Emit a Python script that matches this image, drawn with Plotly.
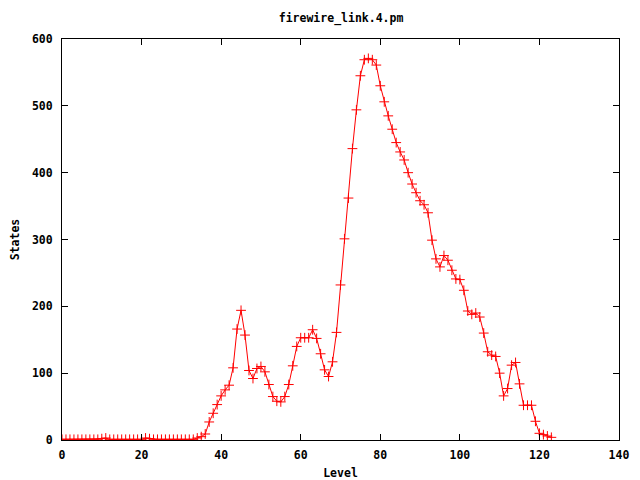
import plotly.graph_objects as go

levels = list(range(0, 124))
states = [
    1, 1, 1, 1, 1, 1, 1, 1, 1, 1,
    2, 3, 1, 1, 1, 1, 1, 1, 1, 1,
    1, 3, 2, 1, 1, 1, 1, 1, 1, 1,
    1, 1, 1, 1, 3, 5, 9, 27, 40, 53,
    66, 75, 82, 108, 166, 194, 157, 104, 92, 107,
    110, 102, 83, 65, 58, 57, 65, 83, 111, 140,
    153, 153, 153, 165, 152, 129, 105, 95, 117, 161,
    232, 301, 362, 436, 494, 545, 569, 571, 569, 561,
    530, 506, 485, 465, 445, 431, 419, 400, 383, 370,
    358, 352, 340, 299, 271, 259, 276, 269, 254, 241,
    240, 224, 193, 188, 190, 184, 160, 132, 127, 125,
    100, 66, 77, 112, 116, 84, 52, 52, 52, 28,
    10, 8, 6, 4,
]

title_text = "firewire_link.4.pm"
x_title = "Level"
y_title = "States"
x_ticks = [0, 20, 40, 60, 80, 100, 120, 140]
y_ticks = [0, 100, 200, 300, 400, 500, 600]

font_family = "DejaVu Sans Mono"
fs = 11.5

fig = go.Figure()
fig.add_trace(go.Scatter(
    x=levels, y=states, mode="lines+markers",
    line=dict(color="#ff0000", width=1),
    marker=dict(symbol="cross-thin", size=7, color="#ff0000",
                line=dict(color="#ff0000", width=1)),
    showlegend=False,
))

axis_common = dict(
    showgrid=False, zeroline=False, showline=True, linecolor="black",
    linewidth=1, mirror="ticks", ticks="inside", ticklen=6,
    tickcolor="black", automargin=False,
    tickfont=dict(family=font_family, size=fs, color="black", weight="bold"),
)

fig.update_layout(
    width=632, height=472,
    paper_bgcolor="white", plot_bgcolor="white",
    margin=dict(l=54, r=21, t=31, b=40),
    title=dict(text=title_text, x=0.527, xanchor="center", y=0.979,
               yanchor="middle",
               font=dict(family=font_family, size=fs, color="black",
                         weight="bold")),
    xaxis=dict(range=[0, 140], tickvals=x_ticks, ticklabelstandoff=4,
               title=dict(text=x_title, standoff=10,
                          font=dict(family=font_family, size=fs,
                                    color="black", weight="bold")),
               **axis_common),
    yaxis=dict(range=[0, 600], tickvals=y_ticks, ticklabelstandoff=6,
               title=dict(text=y_title, standoff=12,
                          font=dict(family=font_family, size=fs,
                                    color="black", weight="bold")),
               **axis_common),
)

fig.write_html("out.html")
